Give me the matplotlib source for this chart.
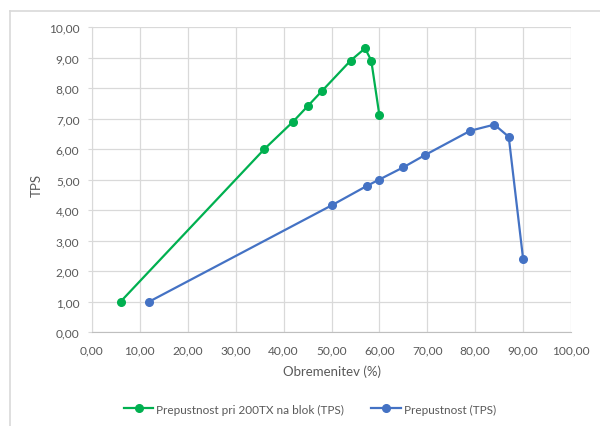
import matplotlib
matplotlib.use("Agg")
import matplotlib.pyplot as plt
from matplotlib.lines import Line2D

plt.rcParams['font.family'] = ['Lato', 'DejaVu Sans']

green_x = [6, 36, 42, 45, 48, 54, 57, 58.3, 60]
green_y = [1.0, 6.0, 6.9, 7.4, 7.9, 8.9, 9.3, 8.9, 7.1]
blue_x = [12, 50, 57.5, 60, 65, 69.5, 79, 84, 87, 90]
blue_y = [1.0, 4.15, 4.8, 5.0, 5.4, 5.8, 6.6, 6.8, 6.4, 2.4]
green_label = "Prepustnost pri 200TX na blok (TPS)"
blue_label = "Prepustnost (TPS)"
x_ticks = [0, 10, 20, 30, 40, 50, 60, 70, 80, 90, 100]
y_ticks = [0, 1, 2, 3, 4, 5, 6, 7, 8, 9, 10]

GREEN = "#00B050"
BLUE = "#4472C4"
GRID = "#D9D9D9"
TXT = "#595959"

fig = plt.figure(figsize=(6, 4.27), dpi=100)
ax = fig.add_axes([92/600, 1-333/427, (571-92)/600, (333-28)/427])

ax.plot(green_x, green_y, color=GREEN, lw=1.6, marker='o', ms=5.5, label=green_label, zorder=3)
ax.plot(blue_x, blue_y, color=BLUE, lw=1.6, marker='o', ms=5.5, label=blue_label, zorder=3)

ax.set_xlim(0, 100)
ax.set_ylim(0, 10)
ax.set_xticks(x_ticks)
ax.set_yticks(y_ticks)
fmt = lambda v: f"{v:.2f}".replace('.', ',')
ax.set_xticklabels([fmt(v) for v in x_ticks])
ax.set_yticklabels([fmt(v) for v in y_ticks])
ax.grid(True, color=GRID, lw=0.9)
ax.set_axisbelow(True)
for s in ['top', 'right']:
    ax.spines[s].set_visible(False)
ax.spines['left'].set_color(GRID)
ax.spines['bottom'].set_color("#BFBFBF")
ax.tick_params(axis='y', length=3, color=GRID, colors=TXT, labelsize=8.6, pad=6)
ax.tick_params(axis='x', length=0, colors=TXT, labelsize=8.6, pad=9)
for lab in ax.get_xticklabels() + ax.get_yticklabels():
    lab.set_color(TXT)

fig.text(37/600, 1-185/427, "TPS", rotation=90, ha='center', va='center', color=TXT, fontsize=9.5)
fig.text(332/600, 1-372/427, "Obremenitev (%)", ha='center', va='center', color=TXT, fontsize=9.5)

leg = fig.legend(loc='center', bbox_to_anchor=(310/600, 1-410/427), ncol=2, frameon=False,
                 fontsize=8.5, columnspacing=2.3, handlelength=2.5, handletextpad=0.25)
for t in leg.get_texts():
    t.set_color(TXT)

# chart border (partially visible)
fig.add_artist(Line2D([10/600, 1], [1-12/427, 1-12/427], color=GRID, lw=1.2))
fig.add_artist(Line2D([10/600, 10/600], [0, 1-12/427], color=GRID, lw=1.2))

fig.savefig("out.png", dpi=100)
